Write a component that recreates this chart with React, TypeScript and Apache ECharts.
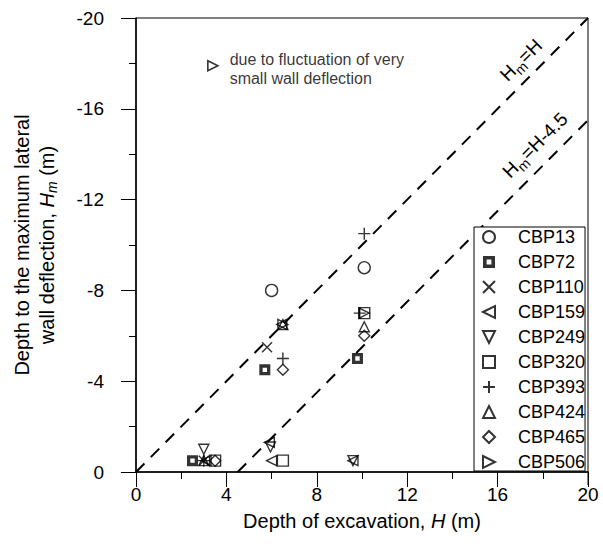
import React, { useEffect, useRef } from "react";
import * as echarts from "echarts";

const FONT = "'Liberation Sans', Arial, Helvetica, sans-serif";

// Legend / series names
const seriesNames = ["CBP13", "CBP72", "CBP110", "CBP159", "CBP249", "CBP320", "CBP393", "CBP424", "CBP465", "CBP506"];

// [H (m), -Hm (m)]
const CBP13 = [[6.0, -8.0], [10.1, -9.0]];
const CBP72 = [[2.5, -0.5], [5.7, -4.5], [9.8, -5.0]];
const CBP110 = [[5.8, -5.5], [3.0, -0.5]];
const CBP159 = [[3.1, -0.5], [6.0, -0.5], [5.9, -1.3], [6.45, -6.5], [9.6, -0.5]];
const CBP249 = [[3.0, -1.0], [5.95, -1.1], [9.6, -0.5]];
const CBP320 = [[3.5, -0.5], [6.5, -0.5], [10.1, -7.0]];
const CBP393 = [[3.0, -0.5], [6.5, -5.0], [10.1, -10.5], [9.9, -7.0]];
const CBP424 = [[3.0, -0.5], [6.5, -6.5], [10.1, -6.4]];
const CBP465 = [[3.5, -0.5], [6.5, -4.5], [10.1, -6.0]];
const CBP506 = [[6.5, -6.5], [10.1, -7.0]];

// reference lines Hm = H and Hm = H - 4.5
const lineHmH = [[0, 0], [20, -20]];
const lineHmH45 = [[4.5, 0], [20, -15.5]];

// annotation marker
const noteMarker = [[3.4, -17.9]];

const xTicks = { min: 0, max: 20, interval: 4 };
const yTicks = { min: -20, max: 0, interval: 4 };

const SYM = {
  leftTri: "path://M0,5L10,0L10,10Z",
  downTri: "path://M0,0L10,0L5,10Z",
  rightTri: "path://M0,0L10,5L0,10Z",
  cross: "path://M0,0L10,10M10,0L0,10",
  plus: "path://M5,0L5,10M0,5L10,5",
  holedSquare: "path://M0,0L10,0L10,10L0,10Z M3,3L3,7L7,7L7,3Z",
};

const hollow = { color: "rgba(0,0,0,0)", borderColor: "#000", borderWidth: 1.4 };

function scatter(name: string, data: number[][], symbol: string, size: number, itemStyle: any) {
  return {
    name,
    type: "scatter",
    data,
    symbol,
    symbolSize: size,
    itemStyle,
    silent: true,
    z: 5,
  };
}

export default function App() {
  const ref = useRef<HTMLDivElement>(null);

  useEffect(() => {
    if (!ref.current) return;
    const chart = echarts.init(ref.current, undefined, { renderer: "svg" });

    const dashed = (data: number[][]) => ({
      type: "line",
      data,
      showSymbol: false,
      symbol: "none",
      silent: true,
      lineStyle: { color: "#000", width: 2, type: [12, 9] },
      z: 3,
    });

    const diagRich = {
      h: { fontSize: 19, lineHeight: 26, fontFamily: FONT },
      s: { fontSize: 14, lineHeight: 14, verticalAlign: "bottom", fontFamily: FONT },
    };

    const option: any = {
      animation: false,
      backgroundColor: "#fff",
      textStyle: { fontFamily: FONT, color: "#000" },
      grid: {
        left: 136,
        right: 15,
        top: 18,
        bottom: 84,
        show: true,
        borderColor: "#000",
        borderWidth: 1,
        backgroundColor: "transparent",
      },
      xAxis: {
        type: "value",
        min: xTicks.min,
        max: xTicks.max,
        interval: xTicks.interval,
        splitLine: { show: false },
        axisLine: { show: true, onZero: false, lineStyle: { color: "#000", width: 1.5 } },
        axisTick: { show: true, inside: false, length: 15, lineStyle: { color: "#000", width: 1 } },
        minorTick: { show: true, splitNumber: 2, length: 7, lineStyle: { color: "#000", width: 1 } },
        axisLabel: { color: "#000", fontSize: 19, fontFamily: FONT, margin: 13 },
      },
      yAxis: {
        type: "value",
        min: yTicks.min,
        max: yTicks.max,
        interval: yTicks.interval,
        inverse: true,
        splitLine: { show: false },
        axisLine: { show: true, onZero: false, lineStyle: { color: "#000", width: 1.5 } },
        axisTick: { show: true, inside: false, length: 15, lineStyle: { color: "#000", width: 1 } },
        minorTick: { show: true, splitNumber: 2, length: 7, lineStyle: { color: "#000", width: 1 } },
        axisLabel: { color: "#000", fontSize: 19, fontFamily: FONT, margin: 32 },
      },
      legend: {
        data: seriesNames,
        orient: "vertical",
        left: 474,
        top: 227,
        itemWidth: 12,
        itemHeight: 12,
        itemGap: 7,
        padding: [1, 0, 0, 8],
        borderColor: "#000",
        borderWidth: 1,
        borderRadius: 0,
        backgroundColor: "#fff",
        selectedMode: false,
        textStyle: { fontSize: 18, fontFamily: FONT, color: "#000", padding: [0, 0, 0, 18], lineHeight: 16 },
      },
      series: [
        dashed(lineHmH),
        dashed(lineHmH45),
        scatter("CBP13", CBP13, "circle", 12, hollow),
        scatter("CBP72", CBP72, SYM.holedSquare, 11, { color: "#000" }),
        scatter("CBP110", CBP110, SYM.cross, 10, { color: "#000", borderColor: "#000", borderWidth: 1.4 }),
        scatter("CBP159", CBP159, SYM.leftTri, 10, hollow),
        scatter("CBP249", CBP249, SYM.downTri, 10, hollow),
        scatter("CBP320", CBP320, "rect", 11, hollow),
        scatter("CBP393", CBP393, SYM.plus, 12, { color: "#000", borderColor: "#000", borderWidth: 1.4 }),
        scatter("CBP424", CBP424, "triangle", 10, hollow),
        scatter("CBP465", CBP465, "diamond", 11, hollow),
        scatter("CBP506", CBP506, SYM.rightTri, 10, hollow),
        {
          name: "note",
          type: "scatter",
          data: noteMarker,
          symbol: SYM.rightTri,
          symbolSize: 10,
          itemStyle: { color: "rgba(0,0,0,0)", borderColor: "#000", borderWidth: 1.6 },
          silent: true,
          label: {
            show: true,
            position: "right",
            distance: 11,
            offset: [0, 3],
            formatter: "due to fluctuation of very\nsmall wall deflection",
            fontSize: 16,
            lineHeight: 19,
            fontFamily: FONT,
            color: "#000",
            align: "left",
          },
        },
      ],
      graphic: [
        {
          type: "text",
          x: 362,
          y: 521,
          style: {
            text: "Depth of excavation, {i|H} (m)",
            fontSize: 20,
            fontFamily: FONT,
            fill: "#000",
            align: "center",
            verticalAlign: "middle",
            rich: { i: { fontStyle: "italic", fontSize: 20, fontFamily: FONT } },
          },
        },
        {
          type: "text",
          x: 34,
          y: 245,
          rotation: Math.PI / 2,
          style: {
            text: "Depth to the maximum lateral\nwall deflection, {i|H}{s|m} (m)",
            fontSize: 20,
            lineHeight: 25,
            fontFamily: FONT,
            fill: "#000",
            align: "center",
            verticalAlign: "middle",
            rich: {
              i: { fontStyle: "italic", fontSize: 20, lineHeight: 25, fontFamily: FONT },
              s: { fontStyle: "italic", fontSize: 14, lineHeight: 14, verticalAlign: "bottom", fontFamily: FONT },
            },
          },
        },
        {
          type: "text",
          x: 521,
          y: 60,
          rotation: Math.PI / 4,
          style: {
            text: "{h|H}{s|m}{h|=H}",
            fill: "#000",
            align: "center",
            verticalAlign: "middle",
            rich: diagRich,
          },
        },
        {
          type: "text",
          x: 535,
          y: 145,
          rotation: Math.PI / 4,
          style: {
            text: "{h|H}{s|m}{h|=H-4.5}",
            fill: "#000",
            align: "center",
            verticalAlign: "middle",
            rich: diagRich,
          },
        },
        {
          type: "line",
          shape: { x1: 588, y1: 472, x2: 588, y2: 485 },
          style: { stroke: "#000", lineWidth: 1 },
        },
      ],
    };

    chart.setOption(option);
    return () => chart.dispose();
  }, []);

  return (
    <div
      ref={ref}
      style={{ position: "fixed", left: 0, top: 0, width: 603, height: 556, background: "#fff" }}
    />
  );
}
